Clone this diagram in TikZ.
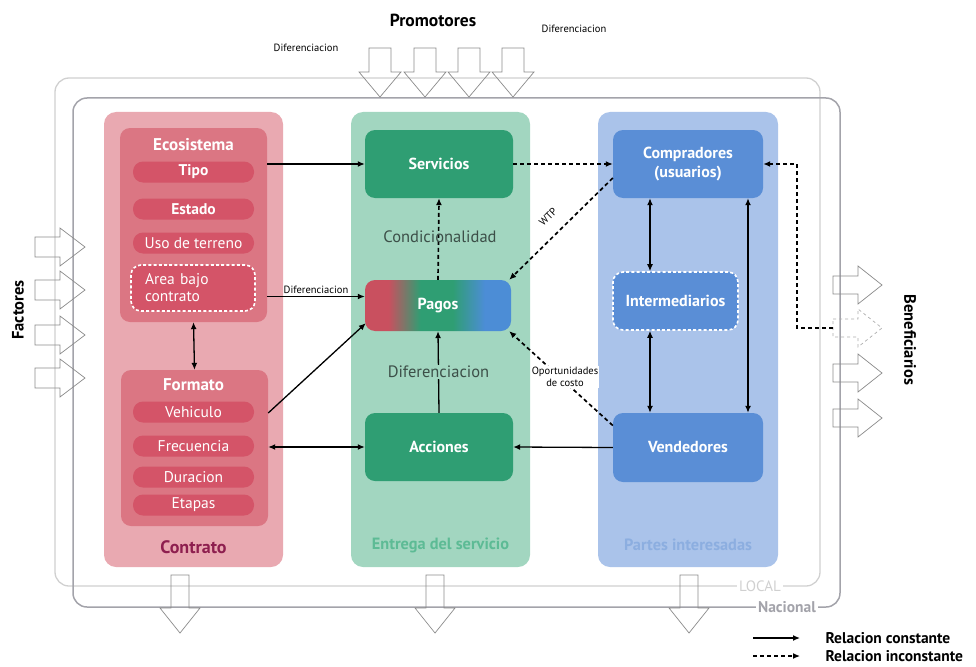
\documentclass[tikz,border=0pt]{standalone}
\usepackage{fontspec}
\setmainfont{PT Sans}
\usetikzlibrary{arrows.meta,calc}

\definecolor{panelRojo}{HTML}{E9A9B1}
\definecolor{cajaRojo}{HTML}{DB7683}
\definecolor{pildoraRojo}{HTML}{D45468}
\definecolor{textoRojo}{HTML}{8E1F4F}
\definecolor{panelVerde}{HTML}{A2D6C0}
\definecolor{cajaVerde}{HTML}{2F9E73}
\definecolor{textoVerde}{HTML}{5DBB95}
\definecolor{panelAzul}{HTML}{AAC3EA}
\definecolor{cajaAzul}{HTML}{5A8ED6}
\definecolor{textoAzul}{HTML}{8CAEE0}
\definecolor{marcoLocal}{HTML}{D0D0D0}
\definecolor{marcoNacional}{HTML}{A3A3AA}
\definecolor{flechaGris}{HTML}{8A8A8A}
\definecolor{textoOscuro}{HTML}{3C4F48}
\definecolor{pagosRojo}{HTML}{C9505F}
\definecolor{pagosAzul}{HTML}{4C8DD6}

\pgfdeclarehorizontalshading{pagosShade}{100bp}{color(0bp)=(pagosRojo); color(33bp)=(pagosRojo); color(44bp)=(cajaVerde); color(55bp)=(cajaVerde); color(66bp)=(pagosAzul); color(100bp)=(pagosAzul)}

\tikzset{
  panel/.style={rounded corners=12pt, minimum width=179pt, minimum height=455pt, inner sep=0pt},
  caja/.style={rounded corners=10pt, text=white, font=\bfseries\fontsize{16}{19}\selectfont, minimum width=148pt, minimum height=68pt, align=center, inner sep=0pt},
  subcaja/.style={rounded corners=10pt, fill=cajaRojo, minimum width=147pt, inner sep=0pt},
  pildora/.style={rounded corners=10pt, fill=pildoraRojo, text=white, minimum width=121pt, minimum height=21pt, inner sep=0pt, font=\fontsize{15.5}{17}\selectfont},
  titulo/.style={text=white, font=\bfseries\fontsize{17}{19}\selectfont},
  borde blanco/.style={draw=white, line width=1.6pt, dash pattern=on 3pt off 2.2pt},
  constante/.style={line width=1.3pt, -{Latex[length=7pt,width=6pt]}},
  inconstante/.style={line width=1.7pt, dash pattern=on 4pt off 3pt, -{Latex[length=7pt,width=6pt]}},
  etiqueta/.style={font=\fontsize{10.5}{11.5}\selectfont, inner sep=1pt, align=center},
  bloque/.style={draw=flechaGris, line width=0.7pt},
}

\begin{document}
\begin{tikzpicture}[x=1pt,y=1pt,yscale=-1]
\useasboundingbox (0,0) rectangle (976,666);

%Frames LOCAL / Nacional
\draw[marcoLocal, line width=1.3pt, rounded corners=14pt] (55,78) rectangle (820,586);
\draw[marcoNacional, line width=1.5pt, rounded corners=14pt] (73,98) rectangle (840,607);
\node[fill=white, text=marcoLocal, font=\fontsize{15}{16}\selectfont, inner sep=2pt] (local) at (760,586) {LOCAL};
\node[fill=white, text=marcoNacional, font=\bfseries\fontsize{15.5}{16}\selectfont, inner sep=2pt] (nacional) at (787,607) {Nacional};

%Block arrows: Factores, Beneficiarios, Promotores and bottom
\foreach \y [count=\i] in {247,290,335,378}
  \draw[bloque] (35,\y-10) -- (60,\y-10) -- (60,\y-19) -- (85,\y) -- (60,\y+19) -- (60,\y+10) -- (35,\y+10) -- cycle;
\foreach \y [count=\i] in {285,328,373,418}
  \coordinate (benef\i) at (833,\y);
\foreach \y in {285,373,418}
  \draw[bloque] (833,\y-9) -- (858,\y-9) -- (858,\y-19) -- (882,\y) -- (858,\y+19) -- (858,\y+9) -- (833,\y+9) -- cycle;
\draw[bloque, draw=flechaGris!70, dashed] (833,319) -- (858,319) -- (858,309) -- (882,328) -- (858,347) -- (858,337) -- (833,337) -- cycle;
\foreach \x in {380,425,469,513}
  \draw[bloque] (\x-11,48) -- (\x-11,72) -- (\x-21,72) -- (\x,97) -- (\x+21,72) -- (\x+11,72) -- (\x+11,48) -- cycle;
\foreach \x in {180,435,689}
  \draw[bloque] (\x-9,575) -- (\x-9,608) -- (\x-20,608) -- (\x,633) -- (\x+20,608) -- (\x+9,608) -- (\x+9,575) -- cycle;

% Text Node
\node[font=\bfseries\fontsize{17.5}{19}\selectfont] (promotores) at (433,20) {Promotores};
\node[etiqueta] (difIzq) at (306,48) {Diferenciacion};
\node[etiqueta] (difDer) at (574,29) {Diferenciacion};
\node[font=\bfseries\fontsize{16.5}{18}\selectfont, rotate=90] (factores) at (18,310) {Factores};
\node[font=\bfseries\fontsize{16.5}{18}\selectfont, rotate=-90] (beneficiarios) at (910,340) {Beneficiarios};

%Panels
\node[panel, fill=panelRojo] (contrato) at (193.5,339.5) {};
\node[panel, fill=panelVerde] (entrega) at (440.5,339.5) {};
\node[panel, fill=panelAzul, minimum width=180pt] (partes) at (688,339.5) {};
\node[font=\bfseries\fontsize{18}{20}\selectfont, text=textoRojo] at (193.5,547) {Contrato};
\node[font=\bfseries\fontsize{16.3}{18}\selectfont, text=textoVerde] at (440.5,545) {Entrega del servicio};
\node[font=\bfseries\fontsize{16.3}{18}\selectfont, text=textoAzul] at (688,545) {Partes interesadas};

%Contrato
\node[subcaja, minimum height=194pt] (ecosistema) at (193.5,225) {};
\node[titulo] at (193.5,145) {Ecosistema};
\node[pildora, font=\bfseries\fontsize{15.5}{17}\selectfont] (tipo) at (193.5,172) {Tipo};
\node[pildora, font=\bfseries\fontsize{15.5}{17}\selectfont] (estado) at (193.5,209) {Estado};
\node[pildora] (uso) at (193.5,243) {Uso de terreno};
\node[pildora, borde blanco, minimum width=124pt, minimum height=46pt, text width=96pt, align=left,
      font=\fontsize{15.5}{17}\selectfont] (area) at (193,288) {Area bajo\\contrato};

\node[subcaja, minimum height=156pt] (formato) at (194.5,448) {};
\node[titulo] at (193.5,385) {Formato};
\node[pildora] (vehiculo) at (193.5,412) {Vehiculo};
\node[pildora] (frecuencia) at (193.5,446) {Frecuencia};
\node[pildora] (duracion) at (193.5,477) {Duracion};
\node[pildora] (etapas) at (193.5,505) {Etapas};

%Entrega del servicio
\node[caja, fill=cajaVerde] (servicios) at (439,164) {Servicios};
\node[caja, shade, shading=pagosShade, minimum width=146pt, minimum height=51pt] (pagos) at (438,305.5) {Pagos};
\node[caja, fill=cajaVerde] (acciones) at (439,447) {Acciones};

%Partes interesadas
\node[caja, fill=cajaAzul, minimum width=150pt] (compradores) at (688,164) {Compradores\\(usuarios)};
\node[caja, fill=cajaAzul, borde blanco, minimum width=125pt, minimum height=58pt] (intermediarios) at (675.5,301) {Intermediarios};
\node[caja, fill=cajaAzul, minimum width=150pt, minimum height=69pt] (vendedores) at (688,447.5) {Vendedores};

\coordinate (pagosIzq) at ($(pagos.west)+(0,-9)$);
\coordinate (ejeInter) at (650,0);
\coordinate (ejeLargo) at (748,0);
\coordinate (codo) at (797,0);

%Straight Lines
\draw[constante, {Latex[length=7pt,width=6pt]}-{Latex[length=7pt,width=6pt]}] (ecosistema.south) -- (formato.north);
\draw[constante] (ecosistema.east |- servicios.west) -- (servicios.west);
\draw[constante] (ecosistema.east |- pagosIzq) -- (pagosIzq) node[etiqueta, midway, above=1pt] {Diferenciacion};
\draw[constante] ($(formato.east |- vehiculo)+(0,1)$) -- ($(pagos.south west)+(1,-8)$);
\draw[constante, {Latex[length=7pt,width=6pt]}-{Latex[length=7pt,width=6pt]}] (formato.east |- acciones.west) -- (acciones.west);
\draw[constante] (acciones.north) -- (pagos.south)
  node[midway, fill=panelVerde, inner sep=1pt, text=textoOscuro, font=\fontsize{16.5}{18}\selectfont] (difCentro) {Diferenciacion};
\draw[constante] (vendedores.west) -- (acciones.east);
\draw[constante, {Latex[length=7pt,width=6pt]}-{Latex[length=7pt,width=6pt]}] (compradores.south -| ejeInter) -- (intermediarios.north -| ejeInter);
\draw[constante, {Latex[length=7pt,width=6pt]}-{Latex[length=7pt,width=6pt]}] (intermediarios.south -| ejeInter) -- (vendedores.north -| ejeInter);
\draw[constante, {Latex[length=7pt,width=6pt]}-{Latex[length=7pt,width=6pt]}] (compradores.south -| ejeLargo) -- (vendedores.north -| ejeLargo);

%Dashed Lines
\draw[inconstante] (pagos.north) -- (servicios.south);
\node[text=textoOscuro, font=\fontsize{16.5}{18}\selectfont] (condicionalidad) at (440,237) {Condicionalidad};
\draw[inconstante] (servicios.east) -- (compradores.west);
\draw[inconstante] ($(compradores.west)+(0,14)$) -- ($(pagos.north east)+(-2,0)$);
\node[etiqueta, rotate=45] (wtp) at (548,217) {WTP};
\draw[inconstante] ($(vendedores.west)+(0,-22)$) -- ($(pagos.south east)+(-2,0)$);
\node[etiqueta, fill=white] (oportunidades) at (565,377) {Oportunidades\\de costo};
\draw[inconstante] (benef2) -| (codo |- compradores.east) -- (compradores.east);

%Legend
\coordinate (leyA1) at (753,638);
\coordinate (leyA2) at (800,638);
\coordinate (leyB1) at (753,656);
\coordinate (leyB2) at (800,656);
\draw[constante] (leyA1) -- (leyA2);
\draw[inconstante, line width=1.3pt] (leyB1) -- (leyB2);
\node[anchor=west, font=\bfseries\fontsize{15.5}{17}\selectfont] (relConst) at (822,638) {Relacion constante};
\node[anchor=west, font=\bfseries\fontsize{15.5}{17}\selectfont] (relIncons) at (822,656) {Relacion inconstante};

\end{tikzpicture}
\end{document}
